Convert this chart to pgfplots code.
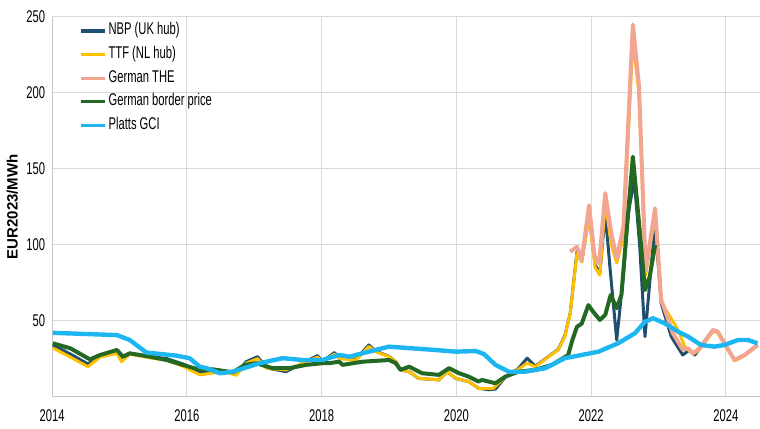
\documentclass[border=0pt]{standalone}
\usepackage{fontspec}
\setmainfont{Liberation Sans}[FakeStretch=0.66]
\newfontfamily\ylabfont{Liberation Sans}
\usepackage{pgfplots}
\pgfplotsset{compat=1.18}

\definecolor{nbp}{RGB}{31,78,110}
\definecolor{ttf}{RGB}{255,192,0}
\definecolor{the}{RGB}{242,165,145}
\definecolor{border}{RGB}{35,105,35}
\definecolor{gci}{RGB}{30,182,240}

\begin{document}
\begin{tikzpicture}
\begin{axis}[
  name=ax,
  scale only axis,
  width=354pt, height=190pt,
  xmin=2014, xmax=2024.5,
  ymin=0, ymax=250,
  xtick={2014,2016,...,2024},
  ytick={50,100,...,250},
  xticklabel style={/pgf/number format/1000 sep=, yshift=-3pt},
  /pgf/number format/assume math mode=true,
  tick label style={font=\fontsize{8.5}{9}\selectfont},
  major tick length=0pt,
  grid=major,
  grid style={draw=black!15, line width=0.5pt},
  axis x line*=bottom, axis y line*=left,
  axis line style={draw=black!22, line width=0.5pt, -},
  ylabel={EUR2023/MWh},
  ylabel style={font=\ylabfont\bfseries\fontsize{7.5}{9}\selectfont,
    at={(rel axis cs:-0.0565,0.5)}, anchor=center},
  legend style={at={(rel axis cs:0.03,1)}, anchor=north west, yshift=0pt,
    draw=none, fill=none, font=\fontsize{8.5}{9}\selectfont, row sep=2.2pt,
    nodes={inner sep=0.8pt, text height=6pt, text depth=2pt}},
  legend cell align=left,
  legend image code/.code={\draw[#1, line width=1.6pt] (0pt,0pt) -- (12pt,0pt);},
  every axis plot/.append style={line join=round, mark=none},
]
% NBP (UK hub)
\addplot[nbp, line width=1.5pt] coordinates {
(2014.01,34) (2014.27,28) (2014.53,21.5) (2014.71,26.5) (2014.96,29.5) (2015.04,25)
(2015.15,28.5) (2015.45,26.5) (2015.70,25) (2015.94,21.5) (2016.19,16) (2016.38,16.5)
(2016.56,17) (2016.73,15) (2016.88,23) (2017.05,26.3) (2017.18,19) (2017.47,16.4)
(2017.67,21) (2017.94,27) (2018.01,23) (2018.19,29) (2018.26,25.5) (2018.51,24.5)
(2018.70,34) (2018.80,30) (2019.00,26.5) (2019.10,23) (2019.17,17.6) (2019.30,16.4)
(2019.44,12) (2019.74,11) (2019.86,16.4) (2019.99,12) (2020.18,9.9) (2020.33,5.5)
(2020.48,4.5) (2020.58,5) (2020.73,13) (2020.92,18.5) (2021.05,25.3) (2021.17,20)
(2021.37,26.5) (2021.51,31) (2021.61,40) (2021.69,55) (2021.79,95.4) (2021.86,88.8)
(2021.97,120) (2022.06,86.6) (2022.13,81.2) (2022.21,121) (2022.28,85) (2022.38,37.3)
(2022.48,80) (2022.55,120) (2022.64,143) (2022.72,100) (2022.80,39.5) (2022.88,80)
(2022.95,114) (2023.04,61.4) (2023.19,39.5) (2023.36,27.4) (2023.46,30.7) (2023.54,27.4)
(2023.61,31.8) (2023.81,43.9) (2023.88,42.8) (2023.98,35.1) (2024.13,24.1) (2024.28,27.4)
(2024.47,34)
};
\addlegendentry{NBP (UK hub)}
% TTF (NL hub)
\addplot[ttf, line width=1.5pt] coordinates {
(2014.01,32) (2014.27,26) (2014.53,19.7) (2014.71,26) (2014.96,28.5) (2015.03,23)
(2015.15,28) (2015.45,25.5) (2015.70,24) (2015.94,20) (2016.19,14.3) (2016.38,15.5)
(2016.56,16.5) (2016.73,14) (2016.88,22) (2017.05,25) (2017.18,18.7) (2017.47,17.6)
(2017.67,21) (2017.94,26) (2018.01,23) (2018.19,28) (2018.26,25) (2018.51,24)
(2018.70,33) (2018.80,29.6) (2019.00,26.3) (2019.10,23) (2019.17,17.6) (2019.30,16.4)
(2019.44,12.1) (2019.74,11) (2019.86,16.4) (2019.99,12.1) (2020.18,9.9) (2020.33,5.5)
(2020.55,5.5) (2020.73,13.2) (2020.92,18) (2021.05,22) (2021.17,19.7) (2021.37,26.3)
(2021.51,30.7) (2021.61,39.5) (2021.69,54.8) (2021.79,94.3) (2021.86,88.8) (2021.97,118)
(2022.06,85) (2022.13,80) (2022.21,128) (2022.30,100) (2022.38,88) (2022.48,105)
(2022.62,235) (2022.71,200) (2022.81,80) (2022.95,120) (2023.04,62) (2023.14,55)
(2023.29,44) (2023.39,33) (2023.51,28) (2023.61,31) (2023.81,43) (2023.88,42)
(2023.98,34.5) (2024.13,23.5) (2024.28,27) (2024.47,33.5)
};
\addlegendentry{TTF (NL hub)}
% German THE
\addplot[the, line width=2pt] coordinates {
(2021.69,95.4) (2021.79,98.7) (2021.86,90) (2021.97,126) (2022.05,93) (2022.12,87.7)
(2022.21,134) (2022.30,107.5) (2022.38,91) (2022.48,112) (2022.62,245) (2022.71,205)
(2022.81,83) (2022.95,124) (2023.04,63.6) (2023.12,54) (2023.21,42) (2023.36,31)
(2023.44,31.8) (2023.51,28.5) (2023.61,31.8) (2023.81,43.9) (2023.88,42.8) (2023.98,35.1)
(2024.13,24.1) (2024.28,27.4) (2024.47,34)
};
\addlegendentry{German THE}
% German border price
\addplot[border, line width=2pt] coordinates {
(2014.01,35.1) (2014.27,31.8) (2014.56,24.5) (2014.71,27.4) (2014.96,30.7) (2015.05,26.3)
(2015.15,28.5) (2015.45,26.3) (2015.70,24.1) (2015.94,20.9) (2016.19,17.6) (2016.38,18)
(2016.68,16) (2016.86,20.9) (2017.03,22) (2017.27,18.7) (2017.52,18.7) (2017.77,20.9)
(2018.01,22) (2018.11,22) (2018.26,23) (2018.31,20.9) (2018.61,23) (2019.00,24.1)
(2019.10,22) (2019.17,17.6) (2019.30,19.7) (2019.49,15.4) (2019.74,14.3) (2019.89,18.7)
(2020.04,15.4) (2020.18,13.2) (2020.33,9.9) (2020.38,11) (2020.58,8.8) (2020.73,13.2)
(2020.92,16.4) (2021.17,17.6) (2021.42,20.9) (2021.66,27.4) (2021.72,37) (2021.79,46)
(2021.86,48) (2021.96,60.3) (2022.03,55.9) (2022.13,50.5) (2022.21,53.8) (2022.29,66.9)
(2022.38,58.2) (2022.45,66.9) (2022.52,105) (2022.62,158) (2022.71,115) (2022.80,70.2)
(2022.87,79) (2022.95,99.8)
};
\addlegendentry{German border price}
% Platts GCI
\addplot[gci, line width=2.2pt] coordinates {
(2014.01,42) (2014.96,40.5) (2015.15,37.3) (2015.40,29) (2015.84,27) (2016.04,25.3)
(2016.19,19.7) (2016.29,18.7) (2016.49,15.4) (2016.68,16.4) (2017.08,22) (2017.42,25.3)
(2017.72,24.1) (2018.01,24.1) (2018.26,27.4) (2018.41,26.3) (2018.70,29.6) (2019.00,32.9)
(2019.34,31.8) (2019.69,30.7) (2019.99,29.6) (2020.29,30) (2020.41,28) (2020.58,20.9)
(2020.78,16.4) (2021.02,16.4) (2021.32,18.7) (2021.61,25.3) (2021.86,27.4) (2022.11,29.6)
(2022.40,35.1) (2022.65,41.7) (2022.80,49.3) (2022.92,51.6) (2023.09,48.3) (2023.29,42.8)
(2023.44,39.5) (2023.63,34) (2023.83,32.9) (2023.98,34) (2024.18,37.3) (2024.33,37.3)
(2024.47,35.1)
};
\addlegendentry{Platts GCI}
\end{axis}
\path ([xshift=-26pt,yshift=-13.5pt]ax.south west) rectangle ([yshift=8.5pt]ax.north east);
\end{tikzpicture}
\end{document}
